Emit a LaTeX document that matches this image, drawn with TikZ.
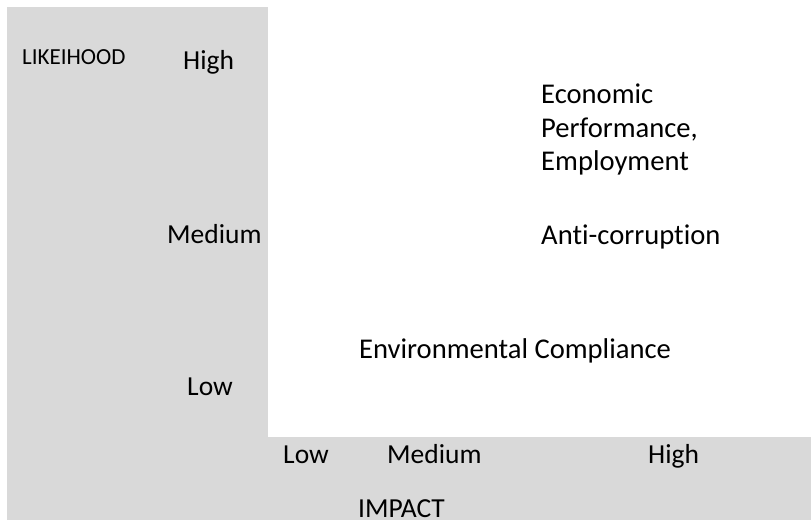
\documentclass[tikz,border=0pt]{standalone}
\usepackage{fontspec}
\setmainfont{Carlito}[Ligatures=NoCommon]
\definecolor{panelgray}{HTML}{D9D9D9}
\begin{document}
\begin{tikzpicture}[x=1pt,y=-1pt,
  lbl/.style={anchor=base west,inner sep=0pt,font=\fontsize{27.5}{33}\selectfont},
  topic/.style={anchor=base west,inner sep=0pt,font=\fontsize{28.6}{34}\selectfont},
  axis/.style={anchor=base west,inner sep=0pt,font=\fontsize{23}{27}\selectfont}]
\useasboundingbox (0,0) rectangle (811,520);
% grey axis panels
\fill[panelgray] (7,7) rectangle (268,520);
\fill[panelgray] (268,437) rectangle (811,520);
% vertical axis
\node[axis] (likelihood) at (22,64) {LIKEIHOOD};
\node[lbl] (yhigh) at (183,69) {High};
\node[lbl] (ymed) at (167,243) {Medium};
\node[lbl] (ylow) at (187,395) {Low};
% horizontal axis
\node[lbl] (xlow) at (283,463) {Low};
\node[lbl] (xmed) at (387,463) {Medium};
\node[lbl] (xhigh) at (648,463) {High};
\node[lbl] (impact) at (358,517) {IMPACT};
% topics
\node[topic] (econ1) at (541,103) {Economic};
\node[topic] (econ2) at (541,137) {Performance,};
\node[topic] (econ3) at (541,170) {Employment};
\node[topic] (anti) at (541,244) {Anti-corruption};
\node[topic] (env) at (359,358) {Environmental Compliance};
\end{tikzpicture}
\end{document}
